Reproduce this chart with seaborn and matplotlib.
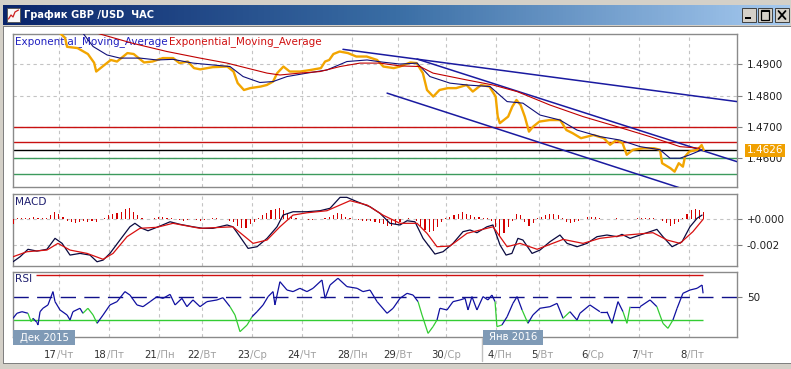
import numpy as np
import pandas as pd
import matplotlib
matplotlib.use("Agg")
import matplotlib.pyplot as plt
import seaborn as sns
from matplotlib.patches import Rectangle
from matplotlib.lines import Line2D
from matplotlib.collections import LineCollection
from matplotlib.colors import LinearSegmentedColormap

sns.set_style("white")
plt.rcParams['font.family'] = ['DejaVu Sans']

# ------------------------------------------------------------------ data
title = "График GBP /USD  ЧАС"
ema_label = "Exponential_Moving_Average"
day_ticks = [22, 46, 70, 91, 115, 139, 163, 185, 208, 232, 253, 277, 301, 325]
day_nums = ["17", "18", "21", "22", "23", "24", "28", "29", "30", "4", "5", "6", "7", "8"]
day_names = ["Чт", "Пт", "Пн", "Вт", "Ср", "Чт", "Пн", "Вт", "Ср", "Пн", "Вт", "Ср", "Чт", "Пт"]
month_labels = ["Дек 2015", "Янв 2016"]

price_h = [0, 20, 25, 26, 31, 36, 39, 40, 43, 47, 50, 55, 58, 63, 67, 72, 77, 80, 84, 87, 90, 96,
           103, 106, 108, 111, 114, 119, 122, 125, 127, 130, 133, 138, 143, 148, 150, 152, 154,
           157, 161, 165, 170, 175, 178, 183, 186, 191, 194, 197, 199, 202, 205, 209, 213, 218,
           221, 225, 229, 232, 233, 234, 238, 240, 242, 244, 246, 248, 250, 253, 258, 263, 266,
           269, 273, 276, 279, 284, 287, 290, 293, 295, 298, 303, 308, 311, 312, 316, 318, 320,
           322, 323, 325, 329, 331, 332]
price_v = [1.5045, 1.5015, 1.4985, 1.4956, 1.4952, 1.4933, 1.4905, 1.4877, 1.4893, 1.4914, 1.4909,
           1.4936, 1.4933, 1.4906, 1.4909, 1.4920, 1.4920, 1.4904, 1.4909, 1.4888, 1.4884, 1.4891,
           1.4893, 1.4877, 1.4840, 1.4818, 1.4824, 1.4829, 1.4834, 1.4845, 1.4872, 1.4893, 1.4877,
           1.4877, 1.4882, 1.4888, 1.4909, 1.4914, 1.4933, 1.4941, 1.4936, 1.4925, 1.4925, 1.4914,
           1.4893, 1.4888, 1.4893, 1.4906, 1.4904, 1.4872, 1.4818, 1.4797, 1.4818, 1.4824, 1.4824,
           1.4834, 1.4813, 1.4834, 1.4829, 1.4797, 1.4733, 1.4712, 1.4733, 1.4765, 1.4786, 1.4770,
           1.4733, 1.4685, 1.4701, 1.4717, 1.4722, 1.4722, 1.4690, 1.4680, 1.4664, 1.4669, 1.4674,
           1.4664, 1.4643, 1.4658, 1.4648, 1.4611, 1.4627, 1.4632, 1.4632, 1.4627, 1.4584, 1.4568,
           1.4557, 1.4584, 1.4573, 1.4605, 1.4621, 1.4627, 1.4642, 1.4626]

ema_fast_h = [33, 38.5, 45.2, 51.4, 61.0, 69.2, 76.9, 86.5, 96.1, 104.3, 110.6, 118.7, 125.0, 131.7,
              141.3, 150.9, 160.5, 170.2, 177.8, 186.0, 194.2, 200.4, 210.0, 218.2, 229.3, 237.5,
              245.1, 253.3, 262.9, 271.1, 282.1, 291.8, 301.4, 311.0, 315.8, 320.6, 325.4, 331.2]
ema_fast_v = [1.5005, 1.4957, 1.4930, 1.4920, 1.4920, 1.4914, 1.4916, 1.4904, 1.4898, 1.4893,
              1.4861, 1.4842, 1.4845, 1.4861, 1.4872, 1.4882, 1.4909, 1.4914, 1.4907, 1.4901,
              1.4904, 1.4861, 1.4840, 1.4834, 1.4829, 1.4781, 1.4776, 1.4738, 1.4722, 1.4690,
              1.4669, 1.4658, 1.4637, 1.4627, 1.4600, 1.4600, 1.4611, 1.4627]

ema_slow_h = [30, 41.8, 57.7, 74.0, 89.9, 102.9, 112.5, 122.1, 128.3, 137.9, 147.6, 157.2, 166.8,
              176.4, 186.0, 195.6, 201.9, 218.2, 230.7, 242.3, 258.1, 274.0, 290.3, 306.2, 320.6, 330.2]
ema_slow_v = [1.5020, 1.4997, 1.4967, 1.4941, 1.4920, 1.4904, 1.4888, 1.4872, 1.4866, 1.4872,
              1.4877, 1.4893, 1.4904, 1.4904, 1.4895, 1.4893, 1.4872, 1.4850, 1.4834, 1.4813,
              1.4770, 1.4733, 1.4701, 1.4669, 1.4637, 1.4632]

trend_lines = [([158.6, 348.0], [1.4948, 1.4781]),
               ([194.2, 348.0], [1.4917, 1.4589]),
               ([179.8, 320.6], [1.4808, 1.4505])]
levels_red = [1.4700, 1.4653]
level_black = 1.4626
levels_green = [1.4600, 1.4550]
price_ticks = [1.4900, 1.4800, 1.4700, 1.4600]
last_price = 1.4626

macd_h = [0, 3.4, 7.2, 11.5, 16.3, 20.2, 23.6, 27.4, 32.2, 37.0, 40.4, 43.3, 46.6, 51.4, 56.2,
          58.6, 62.0, 64.9, 70.7, 75.5, 80.3, 86.5, 91.3, 96.1, 102.9, 105.7, 109.1, 113.0, 117.3,
          122.1, 126.9, 129.8, 134.6, 141.3, 147.6, 152.4, 157.2, 160.5, 165.4, 171.6, 176.4,
          181.2, 186.0, 189.4, 193.2, 197.1, 202.8, 206.7, 211.5, 216.3, 219.7, 223.0, 227.8,
          230.7, 234.1, 237.0, 239.8, 242.7, 245.1, 249.5, 253.3, 258.1, 262.9, 266.3, 271.1,
          275.9, 280.7, 285.5, 290.3, 292.7, 296.6, 301.4, 309.5, 312.4, 316.8, 321.6, 325.4,
          328.8, 331.2]
macd_v = [-33.0, -29.1, -23.3, -24.7, -23.3, -14.8, -18.7, -27.8, -26.5, -27.8, -33.0, -31.7,
          -26.5, -16.1, -5.8, -3.1, -7.0, -8.9, -5.2, -1.9, -3.9, -5.8, -7.0, -7.0, -4.4, -5.8,
          -13.5, -22.6, -21.3, -14.8, -5.8, 3.3, 5.9, 5.9, 6.7, 8.6, 17.1, 17.1, 13.7, 9.8, 4.7,
          -3.1, -4.4, -1.1, -1.9, -14.8, -27.0, -25.2, -18.7, -9.6, -8.3, -10.4, -5.8, -4.4,
          -20.0, -27.8, -26.5, -14.8, -16.1, -26.5, -23.9, -17.4, -12.2, -18.7, -21.3, -18.7,
          -13.5, -12.2, -13.5, -11.7, -14.8, -12.2, -7.8, -13.5, -21.3, -17.4, -5.8, 0.8, 3.3]

signal_h = [0, 6.7, 16.3, 21.6, 27.4, 35.6, 43.3, 48.1, 54.8, 61.0, 69.2, 76.9, 89.9, 105.7,
            115.4, 122.1, 128.3, 134.6, 141.3, 150.9, 162.0, 170.2, 177.8, 186.0, 194.2, 199.0,
            203.8, 210.0, 218.2, 230.7, 237.5, 243.7, 251.9, 264.4, 274.0, 282.1, 295.1, 307.6,
            314.4, 320.6, 326.8, 331.7]
signal_v = [-29.1, -25.2, -23.9, -18.7, -23.9, -26.5, -31.1, -26.5, -13.5, -7.0, -6.2, -3.1,
            -7.0, -5.8, -18.7, -16.1, -5.8, 3.3, 5.1, 6.7, 14.5, 11.1, 3.3, -3.1, -3.1, -10.9,
            -21.3, -20.8, -10.9, -5.8, -21.3, -18.7, -23.3, -15.6, -18.7, -14.8, -12.2, -10.4,
            -16.1, -18.7, -9.6, 0.0]

# histogram, one bar every 2 hours starting at hour 0
hist_v = [-4, 1, 1, 1, 1, 2, 1, 1, 1, 3, 6, 4, 2, -1, -2, -3, -2, -1, -2, -1, -2, 0, 1, 3, 4,
          5, 6, 8, 8.5, 6, 3, 1, 0.5, 0.5, 1, 1.5, 1.5, 1, 1, 0.5, -0.5, -1, -0.5, 0.5, -0.5, -1,
          -0.5, 0.5, 1, 1, 0.5, 0, -1, -2, -5, -7, -7, -4, -2, 1, 3, 5, 7, 8, 9, 7, 4, 2, 1, 0.5,
          0, -0.5, -0.5, 0, 0.5, 1, 2, 3, 5, 4, 2, 1, 0.5, -0.5, -1, -1, -1.5, -2, -3, -4, -5, -5,
          -4, -2, 0.5, 1, 0.5, -1, -5, -8, -10, -9, -6, -2, 1, 2, 3, 4, 5.5, 4, 3, 2, 1.5, 1, 1,
          -1, -6, -13, -11, -6, -1, 4, 3, -2, -5, -3, 1, 2, 3, 4, 4, 3, 1, -2, -2.5, -2, -1, 0.5,
          1.5, 2, 1.5, 1, 0.5, 0.5, 0.5, 1, 0.5, 0.5, 0.5, 0.5, 1, 1, 1, 1, 1, 0.5, -1, -3, -5,
          -4, -2, 1, 4, 7, 8, 7.5, 6]

rsi_h = [0, 1.9, 4.3, 7.2, 8.7, 9.6, 11.5, 12.0, 13.0, 14.4, 16.8, 19.2, 20.2, 22.6, 26.0, 27.4,
         28.8, 32.2, 33.6, 36.0, 38.5, 40.4, 43.3, 46.6, 50.0, 53.8, 56.2, 59.6, 62.5, 65.9, 69.2,
         72.1, 75.5, 77.9, 81.2, 83.6, 86.5, 89.9, 93.2, 98.1, 100.9, 104.3, 106.7, 109.1, 112.5,
         114.9, 117.3, 120.2, 122.6, 125.0, 125.9, 128.3, 131.7, 134.6, 137.9, 141.3, 144.2,
         148.5, 150.0, 152.4, 156.2, 160.5, 165.4, 168.2, 171.6, 175.0, 179.8, 182.7, 186.0,
         189.4, 192.3, 194.7, 196.6, 199.5, 201.9, 203.8, 205.2, 208.6, 211.5, 214.9, 217.3,
         218.7, 220.6, 223.0, 225.9, 228.3, 230.2, 231.7, 232.6, 235.0, 237.5, 240.3, 242.3,
         244.7, 247.5, 249.9, 253.3, 258.1, 261.5, 264.4, 267.7, 271.1, 272.5, 277.3, 282.1,
         285.5, 287.9, 290.8, 293.2, 295.1, 296.6, 301.4, 306.2, 309.5, 312.4, 314.8, 317.2,
         319.2, 322.0, 325.4, 328.8, 331.2, 331.7]
rsi_v = [31.6, 36, 37.4, 36, 28.7, 31.6, 28, 25.7, 37.4, 40.4, 43.3, 55, 46.2, 38.9, 34.5, 30.1,
         37.4, 40.4, 36, 40.4, 34.5, 27.2, 34.5, 43.3, 46.2, 55, 52, 43.3, 41.8, 46.2, 50.6, 49.1,
         52.6, 43.3, 49.1, 41.8, 47.7, 41.8, 46.2, 47.7, 49.7, 41.8, 34.5, 19.9, 25.7, 33, 37.4,
         43.3, 50.6, 55, 43.3, 63.7, 56.4, 55, 57.9, 55, 57.9, 65.2, 49.1, 60.8, 66.7, 59.4, 57.9,
         55, 56.4, 46.2, 36, 40.4, 49.1, 53.5, 52, 46.2, 34.5, 18.4, 24.3, 30.1, 40.4, 38.9, 46.2,
         47.7, 49.1, 38.9, 50.6, 38.9, 50.6, 47.7, 52, 46.2, 24.3, 25.7, 33, 44.7, 50.6, 38.9,
         27.2, 34.5, 40.4, 41.8, 44.7, 31.6, 37.4, 30.1, 36, 43.3, 37.4, 37.4, 27.2, 46.2, 37.4,
         27.2, 41.8, 41.8, 47.7, 41.8, 27.2, 22.8, 30.1, 40.4, 53.5, 56.4, 57.9, 60.8, 53.5]
rsi_green_ranges = [(6.5, 10), (33, 41), (104.5, 115.5), (194.5, 204), (231.5, 235),
                    (244.5, 248.5), (263.5, 266.5), (287, 289), (293, 296), (309.5, 317.5)]
rsi_levels = {"high": 70, "mid": 50, "low": 30}
rsi_red_start = 11

# ------------------------------------------------------------------ figure / chrome
W, H = 791, 369
fig = plt.figure(figsize=(W / 100, H / 100), dpi=100, facecolor='#d4d0c8')


def fx(x):
    return x / W


def fy(y):
    return 1 - y / H


def rect_px(x0, y0, x1, y1, z=-10, **kw):
    r = Rectangle((fx(x0), fy(y1)), fx(x1) - fx(x0), fy(y0) - fy(y1),
                  transform=fig.transFigure, zorder=z, **kw)
    fig.add_artist(r)
    return r


def line_px(xs, ys, z=5, **kw):
    fig.add_artist(Line2D([fx(x) for x in xs], [fy(y) for y in ys],
                          transform=fig.transFigure, zorder=z, **kw))


rect_px(3, 26, 791, 364, facecolor='#808080', edgecolor='none', z=-11)
rect_px(4, 27, 791, 363, facecolor='white', edgecolor='none', z=-10)

# title bar gradient
ax_t = fig.add_axes([fx(3), fy(25), fx(790) - fx(3), fy(5) - fy(25)])
grad_cmap = LinearSegmentedColormap.from_list('tb', ['#0a246a', '#3a6ea5', '#a6caf0'])
ax_t.imshow(np.linspace(0, 1, 256)[None, :], aspect='auto', cmap=grad_cmap, extent=[0, 1, 0, 1])
ax_t.set_axis_off()
fig.text(fx(24), fy(15.5), title, color='white', fontweight='bold', fontsize=7.1,
         va='center', ha='left')
# icon
rect_px(7, 8, 20, 22, z=5, facecolor='#f8f8f8', edgecolor='#505050', lw=0.6)
line_px([8.5, 11, 13, 15, 18.5], [19, 15, 17, 12, 10], color='#cc2020', lw=0.9, z=6)
# window buttons
for (b0, b1) in [(742, 756), (758, 772), (775, 789)]:
    rect_px(b0, 8, b1, 22, z=5, facecolor='#d4d0c8', edgecolor='#404040', lw=0.7)
rect_px(745, 17, 751, 19, z=6, facecolor='black', edgecolor='none')
rect_px(761, 10.5, 769, 19.5, z=6, facecolor='none', edgecolor='black', lw=0.9)
rect_px(761, 10.5, 769, 12, z=6, facecolor='black', edgecolor='none')
line_px([778.5, 785.5], [11, 19], color='black', lw=1.3, z=6)
line_px([778.5, 785.5], [19, 11], color='black', lw=1.3, z=6)

# ------------------------------------------------------------------ panels
L, R = 13, 737
ax_main = fig.add_axes([fx(L), fy(187), fx(R) - fx(L), fy(34) - fy(187)])
ax_macd = fig.add_axes([fx(L), fy(266), fx(R) - fx(L), fy(194) - fy(266)])
ax_rsi = fig.add_axes([fx(L), fy(337), fx(R) - fx(L), fy(272) - fy(337)])

grid_kw = dict(color='#c4c4c4', linestyle=(0, (3, 3)), linewidth=0.8)
for ax in (ax_main, ax_macd, ax_rsi):
    ax.set_facecolor('white')
    ax.set_xlim(0, 348)
    ax.set_xticks(day_ticks)
    ax.tick_params(axis='x', length=0, labelbottom=False)
    ax.yaxis.tick_right()
    ax.tick_params(axis='y', which='major', length=3.5, width=0.8, color='#808080',
                   labelsize=7.5, labelcolor='#202020', pad=3.5, left=False, right=True)
    for s in ax.spines.values():
        s.set_color('#8a8a8a')
        s.set_linewidth(1.0)
    ax.set_axisbelow(True)
    ax.grid(True, **grid_kw)

# ---- main price panel
ax_main.set_ylim(1.4508, 1.4997)
ax_main.set_yticks(price_ticks)
ax_main.set_yticklabels([f"{v:.4f}" for v in price_ticks])
for lv in levels_red:
    ax_main.axhline(lv, color='#c81010', lw=1.0, zorder=2)
ax_main.axhline(level_black, color='black', lw=1.0, zorder=2)
for lv in levels_green:
    ax_main.axhline(lv, color='#3c9a5c', lw=1.0, zorder=2)
for xs, ys in trend_lines:
    sns.lineplot(x=xs, y=ys, ax=ax_main, color='#1a1aa0', linewidth=1.1, zorder=3)
sns.lineplot(x=price_h, y=price_v, ax=ax_main, color='#f2a500', linewidth=1.7, zorder=4)
sns.lineplot(x=ema_fast_h, y=ema_fast_v, ax=ax_main, color='#10107a', linewidth=0.8, zorder=5)
sns.lineplot(x=ema_slow_h, y=ema_slow_v, ax=ax_main, color='#c00000', linewidth=0.8, zorder=5)
ax_main.set_xlabel('')
ax_main.set_ylabel('')
ax_main.annotate(ema_label, xy=(0, 1), xycoords='axes fraction', xytext=(2, -8),
                 textcoords='offset pixels', color='#2020c0', fontsize=7.5, va='center', ha='left')
ax_main.annotate(ema_label, xy=(0, 1), xycoords='axes fraction', xytext=(156, -8),
                 textcoords='offset pixels', color='#d01010', fontsize=7.5, va='center', ha='left')
ax_main.annotate(f"{last_price:.4f}", xy=(1, last_price), xycoords=('axes fraction', 'data'),
                 xytext=(10, 0), textcoords='offset pixels', color='white', fontsize=7.5,
                 va='center', ha='left', annotation_clip=False,
                 bbox=dict(boxstyle='square,pad=0.15', facecolor='#f0a000', edgecolor='none'))

# ---- MACD panel
ax_macd.set_ylim(-0.00363, 0.00197)
ax_macd.set_yticks([0.0, -0.002])
ax_macd.set_yticklabels(['+0.000', '-0.002'])
hist_h = np.arange(len(hist_v)) * 2
ax_macd.bar(hist_h, np.array(hist_v) * 1e-4, width=0.55, color='#d40000', linewidth=0,
            antialiased=False, zorder=3)
sns.lineplot(x=macd_h, y=np.array(macd_v) * 1e-4, ax=ax_macd, color='#0a0a40', linewidth=0.9, zorder=4)
sns.lineplot(x=signal_h, y=np.array(signal_v) * 1e-4, ax=ax_macd, color='#d81010', linewidth=0.9, zorder=5)
ax_macd.set_xlabel('')
ax_macd.set_ylabel('')
ax_macd.annotate('MACD', xy=(0, 1), xycoords='axes fraction', xytext=(2, -8),
                 textcoords='offset pixels', color='#202070', fontsize=7.6, va='center', ha='left')

# ---- RSI panel
ax_rsi.set_ylim(15.2, 72.2)
ax_rsi.set_yticks([rsi_levels["mid"]])
ax_rsi.set_yticklabels([str(rsi_levels["mid"])])
ax_rsi.grid(False, axis='y')
ax_rsi.hlines(rsi_levels["high"], rsi_red_start, rsi_h[-1], color='#d01010', lw=1.0, zorder=2)
ax_rsi.hlines(rsi_levels["low"], 0, rsi_h[-1], color='#33cc33', lw=1.0, zorder=2)
ax_rsi.axhline(rsi_levels["mid"], color='#10108a', lw=1.0, linestyle=(0, (11, 6)), zorder=2)
pts = np.column_stack([rsi_h, rsi_v])
segs = np.stack([pts[:-1], pts[1:]], axis=1)
mids = (pts[:-1, 0] + pts[1:, 0]) / 2
seg_cols = ['#33cc33' if any(a <= m <= b for a, b in rsi_green_ranges) else '#1010a0' for m in mids]
ax_rsi.add_collection(LineCollection(segs, colors=seg_cols, linewidths=0.9, zorder=4))
ax_rsi.annotate('RSI', xy=(0, 1), xycoords='axes fraction', xytext=(2, -7),
                textcoords='offset pixels', color='#202070', fontsize=7.6, va='center', ha='left')

for t, n, d in zip(day_ticks, day_nums, day_names):
    ax_rsi.annotate(n, xy=(t, 0), xycoords=('data', 'axes fraction'), xytext=(-2, -18),
                    textcoords='offset pixels', ha='right', va='center', fontsize=7.3,
                    color='#303030', annotation_clip=False)
    ax_rsi.annotate('/' + d, xy=(t, 0), xycoords=('data', 'axes fraction'), xytext=(-2, -18),
                    textcoords='offset pixels', ha='left', va='center', fontsize=7.3,
                    color='#a0a0a0', annotation_clip=False)

# month markers
line_px([482, 482], [338, 361], color='#c0c0c0', lw=1.0, z=4)
for (m0, m1), txt in zip([(13, 75), (483, 543)], month_labels):
    rect_px(m0, 330, m1, 345, z=6, facecolor='#7f9ab6', edgecolor='none')
    fig.text(fx((m0 + m1) / 2), fy(337.5), txt, color='white', fontsize=7.3,
             ha='center', va='center', zorder=7)

fig.savefig('out.png', dpi=100, facecolor=fig.get_facecolor())
